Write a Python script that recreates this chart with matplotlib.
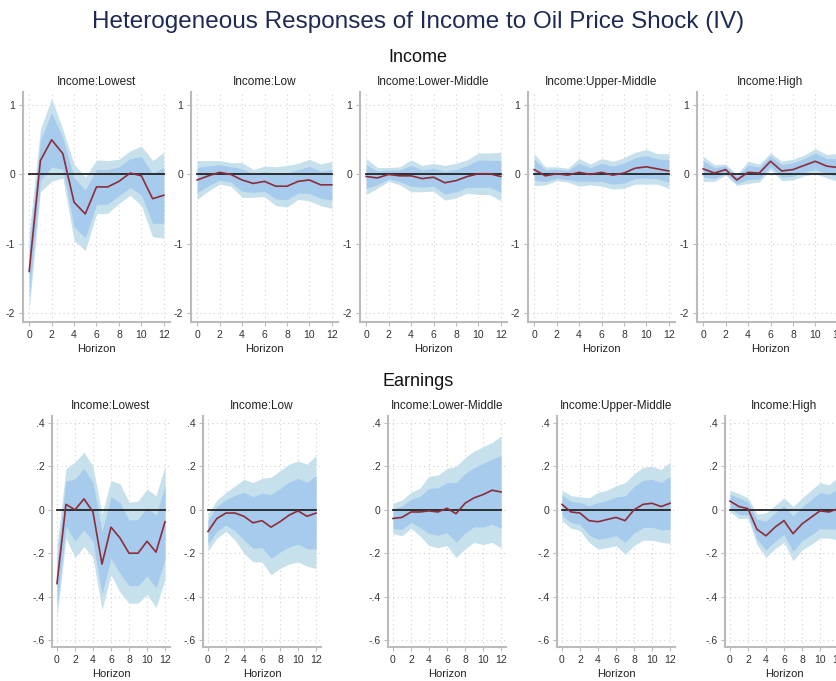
import numpy as np
import matplotlib
matplotlib.use("Agg")
import matplotlib.pyplot as plt
from matplotlib.ticker import FuncFormatter

plt.rcParams['font.family'] = ['Liberation Sans', 'DejaVu Sans']

horizon = np.arange(13)
groups = ['Income:Lowest', 'Income:Low', 'Income:Lower-Middle', 'Income:Upper-Middle', 'Income:High']

# Income responses: point estimate and half-width of outer band
inc_point = [
    [-1.4, 0.2, 0.5, 0.3, -0.4, -0.57, -0.18, -0.18, -0.1, 0.02, -0.02, -0.35, -0.3],
    [-0.08, -0.02, 0.03, 0.0, -0.08, -0.13, -0.1, -0.17, -0.17, -0.1, -0.08, -0.15, -0.15],
    [-0.03, -0.05, 0.0, -0.02, -0.02, -0.06, -0.04, -0.12, -0.09, -0.03, 0.01, 0.01, -0.03],
    [0.07, -0.02, 0.01, -0.01, 0.03, 0.0, 0.03, -0.01, 0.02, 0.09, 0.11, 0.08, 0.05],
    [0.08, 0.02, 0.07, -0.08, 0.03, 0.02, 0.19, 0.05, 0.07, 0.13, 0.19, 0.12, 0.1],
]
inc_hw = [
    [0.55, 0.45, 0.6, 0.35, 0.55, 0.53, 0.39, 0.38, 0.32, 0.32, 0.43, 0.55, 0.62],
    [0.28, 0.22, 0.17, 0.17, 0.25, 0.2, 0.22, 0.28, 0.3, 0.26, 0.3, 0.3, 0.34],
    [0.26, 0.15, 0.1, 0.13, 0.23, 0.19, 0.2, 0.25, 0.25, 0.24, 0.3, 0.3, 0.35],
    [0.23, 0.13, 0.1, 0.1, 0.2, 0.15, 0.2, 0.2, 0.22, 0.23, 0.25, 0.22, 0.25],
    [0.18, 0.12, 0.08, 0.08, 0.16, 0.13, 0.12, 0.14, 0.15, 0.15, 0.18, 0.17, 0.2],
]

# Earnings responses: point estimate, outer band low / high
earn_point = [
    [-0.34, 0.025, 0.0, 0.05, -0.01, -0.25, -0.08, -0.13, -0.2, -0.2, -0.145, -0.195, -0.055],
    [-0.1, -0.04, -0.015, -0.015, -0.03, -0.06, -0.05, -0.08, -0.055, -0.025, -0.005, -0.03, -0.015],
    [-0.04, -0.035, -0.01, -0.01, -0.005, -0.01, 0.007, -0.018, 0.03, 0.055, 0.07, 0.09, 0.082],
    [0.025, -0.01, -0.015, -0.05, -0.055, -0.045, -0.035, -0.05, 0.0, 0.025, 0.03, 0.015, 0.03],
    [0.04, 0.015, 0.005, -0.09, -0.12, -0.08, -0.05, -0.11, -0.065, -0.035, -0.005, -0.01, 0.005],
]
earn_hi = [
    [-0.17, 0.19, 0.22, 0.265, 0.2, -0.02, 0.135, 0.12, 0.035, 0.04, 0.095, 0.065, 0.2],
    [-0.02, 0.045, 0.08, 0.11, 0.14, 0.125, 0.145, 0.15, 0.18, 0.21, 0.225, 0.21, 0.25],
    [0.03, 0.045, 0.08, 0.1, 0.155, 0.16, 0.19, 0.2, 0.24, 0.27, 0.29, 0.31, 0.34],
    [0.09, 0.065, 0.06, 0.055, 0.08, 0.09, 0.11, 0.125, 0.165, 0.195, 0.2, 0.185, 0.22],
    [0.09, 0.075, 0.055, -0.02, -0.015, 0.02, 0.055, 0.015, 0.055, 0.09, 0.125, 0.115, 0.15],
]
earn_lo = [
    [-0.5, -0.13, -0.22, -0.17, -0.22, -0.46, -0.3, -0.38, -0.43, -0.43, -0.39, -0.45, -0.32],
    [-0.19, -0.13, -0.1, -0.14, -0.2, -0.24, -0.24, -0.3, -0.27, -0.25, -0.24, -0.26, -0.27],
    [-0.11, -0.12, -0.085, -0.12, -0.165, -0.175, -0.165, -0.22, -0.18, -0.15, -0.16, -0.15, -0.175],
    [-0.05, -0.085, -0.095, -0.15, -0.18, -0.175, -0.165, -0.205, -0.165, -0.14, -0.14, -0.15, -0.155],
    [-0.01, -0.04, -0.04, -0.16, -0.22, -0.18, -0.15, -0.235, -0.185, -0.16, -0.13, -0.13, -0.14],
]

OUTER = '#c6e0ec'
INNER = '#a6cbec'
LINE = '#8c2d3c'
W, H = 836, 681


def fmt(v, _):
    if abs(v) < 1e-9:
        return '0'
    s = '%g' % v
    return s.replace('0.', '.')


def draw(ax, pt, lo, hi, yticks, ylim):
    pt, lo, hi = np.array(pt), np.array(lo), np.array(hi)
    ilo = pt + 0.65 * (lo - pt)
    ihi = pt + 0.65 * (hi - pt)
    ax.fill_between(horizon, lo, hi, color=OUTER, lw=0)
    ax.fill_between(horizon, ilo, ihi, color=INNER, lw=0)
    ax.axhline(0, xmin=0.04, xmax=0.96, color='#222222', lw=1.3, zorder=3)
    ax.plot(horizon, pt, color=LINE, lw=1.2, zorder=4)
    ax.set_xlim(-0.55, 12.55)
    ax.set_ylim(*ylim)
    ax.set_xticks(range(0, 13, 2))
    ax.set_yticks(yticks)
    ax.yaxis.set_major_formatter(FuncFormatter(fmt))
    ax.grid(True, color='#d0d0d0', ls=(0, (1, 3)), lw=0.8)
    ax.set_axisbelow(True)
    for s in ['top', 'right']:
        ax.spines[s].set_visible(False)
    for s in ['left', 'bottom']:
        ax.spines[s].set_color('#bbbbbb')
        ax.spines[s].set_linewidth(1.5)
    ax.tick_params(colors='#bbbbbb', labelcolor='#333333', labelsize=7.5, length=3, pad=2.5)
    ax.set_xlabel('Horizon', fontsize=8, color='#222222', labelpad=3)


fig = plt.figure(figsize=(W / 100, H / 100), dpi=100)
fig.text(0.5, 1 - 22 / H, 'Heterogeneous Responses of Income to Oil Price Shock (IV)',
         ha='center', va='center', fontsize=17.5, color='#1e2a55')
fig.text(0.5, 1 - 57 / H, 'Income', ha='center', va='center', fontsize=13, color='#111111')
fig.text(0.5, 1 - 382 / H, 'Earnings', ha='center', va='center', fontsize=13, color='#111111')

top_left = [23, 191, 360, 528, 697]
bot_left = [52, 203, 388, 557, 725]
for i in range(5):
    ax = fig.add_axes([top_left[i] / W, 1 - 322 / H, 147 / W, 230 / H])
    pt = np.array(inc_point[i]); hw = np.array(inc_hw[i])
    draw(ax, pt, pt - hw, pt + hw, [-2, -1, 0, 1], (-2.13, 1.19))
    ax.set_title(groups[i], fontsize=8.5, color='#222222', pad=5)

    ax = fig.add_axes([bot_left[i] / W, 1 - 647 / H, 118 / W, 231 / H])
    draw(ax, earn_point[i], earn_lo[i], earn_hi[i], [-0.6, -0.4, -0.2, 0, 0.2, 0.4], (-0.632, 0.432))
    ax.set_title(groups[i], fontsize=8.5, color='#222222', pad=5)

fig.savefig('out.png', dpi=100)
